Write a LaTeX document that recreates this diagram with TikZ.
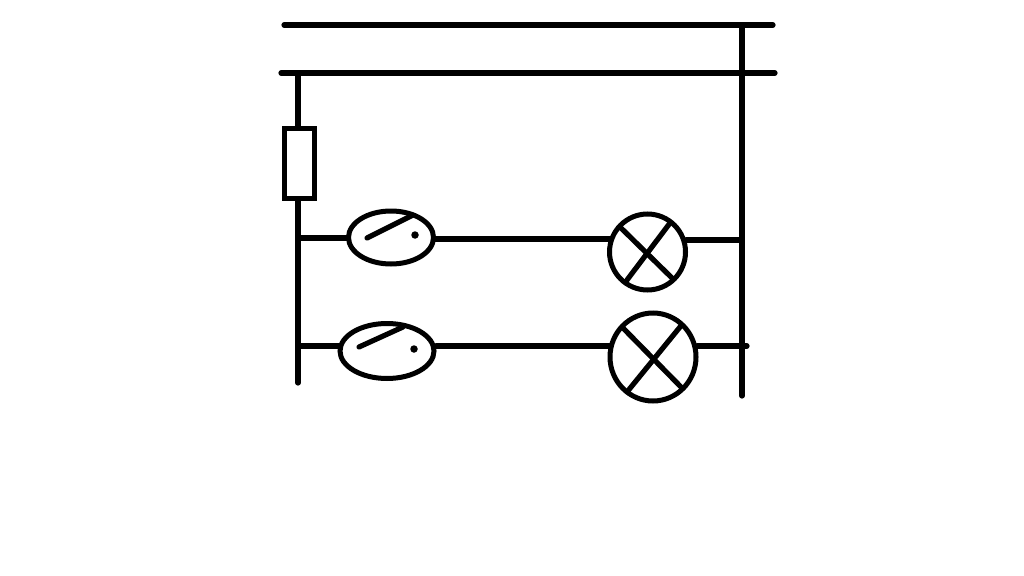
\documentclass[tikz,border=0pt]{standalone}
\usetikzlibrary{shapes.geometric}
\tikzset{
  wire/.style={line width=5.2pt,line cap=round,draw=black},
  oval/.style={ellipse,draw=black,line width=5pt,inner sep=0pt,outer sep=0pt,fill=none},
  fuse/.style={rectangle,draw=black,line width=5pt,inner sep=0pt,outer sep=0pt},
  contact/.style={circle,fill=black,inner sep=0pt,minimum size=7.5pt}
}
\begin{document}
\begin{tikzpicture}[x=1pt,y=-1pt]
\useasboundingbox (0,0) rectangle (1024,575);
% buses
\coordinate (b1l) at (284,25); \coordinate (b1r) at (773,25);
\coordinate (b2l) at (281,73); \coordinate (b2r) at (775,73);
\draw[wire] (b1l) -- (b1r);
\draw[wire] (b2l) -- (b2r);
% vertical rails
\coordinate (ltop) at (298,73); \coordinate (lbot) at (298,383);
\coordinate (rtop) at (742,25); \coordinate (rbot) at (742,396);
\node[fuse,minimum width=30.5pt,minimum height=70pt] (fu) at (299.5,163.5) {};
\coordinate (futop) at (298,128); \coordinate (fubot) at (298,199);
\draw[wire] (ltop) -- (futop);
\draw[wire] (fubot) -- (lbot);
\draw[wire] (rtop) -- (rbot);
% switches
\node[oval,minimum width=85pt,minimum height=53pt] (s1) at (391,237.5) {};
\node[oval,minimum width=94pt,minimum height=55pt] (s2) at (387,351) {};
% lamps
\node[oval,minimum width=76pt,minimum height=76pt] (l1) at (647.5,252) {};
\node[oval,minimum width=86pt,minimum height=88pt] (l2) at (653,357) {};
% tap coordinates
\coordinate (t1) at (298,238); \coordinate (t2) at (298,346);
\coordinate (s1l) at (348,238); \coordinate (s2l) at (340,346);
\coordinate (s1r) at (435,239); \coordinate (s2r) at (436,346);
\coordinate (l1l) at (610,239); \coordinate (l2l) at (610,346);
\coordinate (l1r) at (686,240); \coordinate (l2r) at (697,346);
\coordinate (r1) at (742,240); \coordinate (r2) at (747,346);
\draw[wire] (t1) -- (s1l);
\draw[wire] (t2) -- (s2l);
\draw[wire] (s1r) -- (l1l);
\draw[wire] (s2r) -- (l2l);
\draw[wire] (l1r) -- (r1);
\draw[wire] (l2r) -- (r2);
% switch blades
\coordinate (bl1a) at (367,238); \coordinate (bl1b) at (413,215);
\coordinate (bl2a) at (359,347); \coordinate (bl2b) at (403,327);
\draw[wire] (bl1a) -- (bl1b);
\draw[wire] (bl2a) -- (bl2b);
\node[contact] (c1) at (415,235) {};
\node[contact] (c2) at (414,349) {};
% lamp crosses
\coordinate (x1a) at (620,227); \coordinate (x1b) at (672,278);
\coordinate (x1c) at (670,223); \coordinate (x1d) at (627,280);
\coordinate (x2a) at (623,328); \coordinate (x2b) at (682,388);
\coordinate (x2c) at (680,327); \coordinate (x2d) at (627,392);
\draw[wire] (x1a) -- (x1b);
\draw[wire] (x1c) -- (x1d);
\draw[wire] (x2a) -- (x2b);
\draw[wire] (x2c) -- (x2d);
\end{tikzpicture}
\end{document}
